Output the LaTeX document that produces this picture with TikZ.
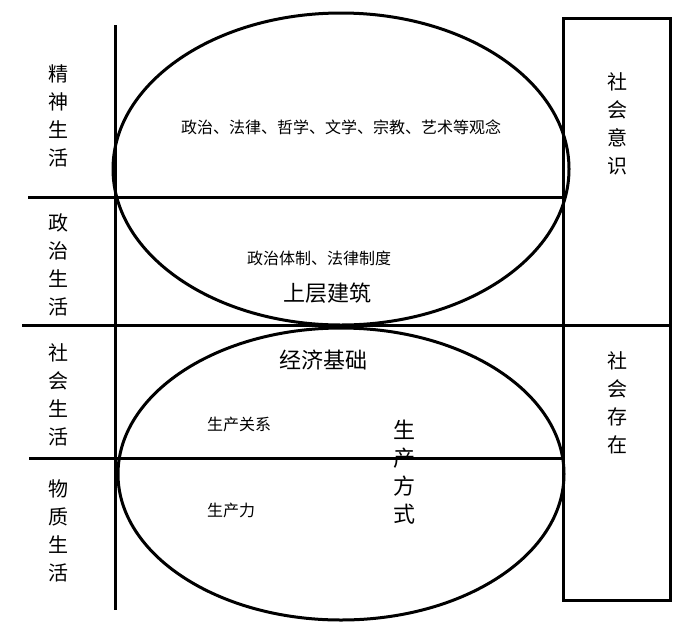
\documentclass[tikz,border=0pt]{standalone}
\usepackage{fontspec}
\setmainfont{Noto Sans CJK SC}
\usetikzlibrary{shapes.geometric}

\begin{document}
\begin{tikzpicture}[x=1pt, y=-1pt, line width=3pt,
    col/.style={align=center, font=\fontsize{20}{28}\selectfont},
    small/.style={font=\fontsize{16}{20}\selectfont},
    big/.style={font=\fontsize{22}{28}\selectfont}]
        \useasboundingbox (0,0) rectangle (690,630);
        % ellipses and the box on the right
        \node (upper) [draw, ellipse, minimum width=456pt, minimum height=312pt, inner sep=0pt] at (341,169) {};
        \node (base) [draw, ellipse, minimum width=446pt, minimum height=292pt, inner sep=0pt] at (341,474) {};
        \node (rbox) [draw, minimum width=107pt, minimum height=582pt, inner sep=0pt] at (616.5,309) {};
        % grid lines
        \draw (115,25) -- (115,610);
        \draw (28,197) -- (rbox.west |- 0,197);
        \draw (22,325) -- (rbox.east |- 0,325);
        \draw (29,458) -- (rbox.west |- 0,458);
        % left column
        \node (jingshen) [col] at (58,116) {精\\神\\生\\活};
        \node (zhengzhi) [col] at (58,265) {政\\治\\生\\活};
        \node (shehui) [col] at (58,395) {社\\会\\生\\活};
        \node (wuzhi) [col] at (58,531) {物\\质\\生\\活};
        % right column
        \node (yishi) [col] at (617,124) {社\\会\\意\\识};
        \node (cunzai) [col] at (617,403) {社\\会\\存\\在};
        % inside the ellipses
        \node (guannian) [small] at (341,127) {政治、法律、哲学、文学、宗教、艺术等观念};
        \node (zhidu) [small] at (319,258) {政治体制、法律制度};
        \node (shangceng) [big] at (327,293) {上层建筑};
        \node (jingji) [big] at (323,360) {经济基础};
        \node (guanxi) [small] at (239,424) {生产关系};
        \node (shengchanli) [small] at (231,510) {生产力};
        \node (fangshi) [col, font=\fontsize{22}{28}\selectfont] at (404,472) {生\\产\\方\\式};
\end{tikzpicture}
\end{document}
